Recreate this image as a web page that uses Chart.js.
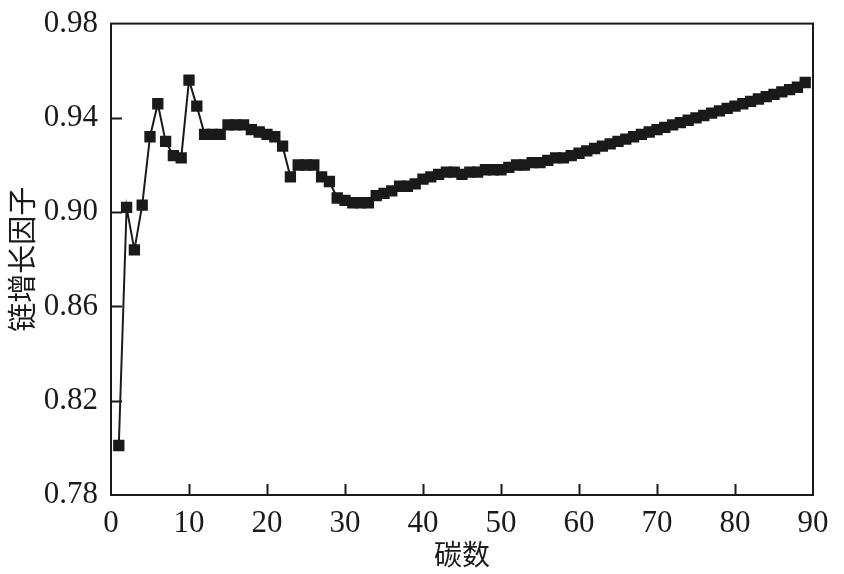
<!DOCTYPE html>
<html>
<head>
<meta charset="utf-8">
<script src="https://cdn.jsdelivr.net/npm/chart.js@4.4.1/dist/chart.umd.min.js"></script>
<style>
  body { margin: 0; background: #fff; }
  #wrap { width: 844px; height: 574px; }
</style>
</head>
<body>
<div id="wrap"><canvas id="myChart"></canvas></div>
<script>
// carbon number and chain growth factor
const carbonNum = []
for (let i = 1; i <= 89; i++) carbonNum.push(i)

const growthFactor = [
    0.801, 0.902, 0.884, 0.903, 0.932, 0.946, 0.930, 0.924, 0.923, 0.956,
    0.945, 0.933, 0.933, 0.933, 0.937, 0.937, 0.937, 0.935, 0.934, 0.933,
    0.932, 0.928, 0.915, 0.920, 0.920, 0.920, 0.915, 0.913, 0.906, 0.905,
    0.904, 0.904, 0.904, 0.907, 0.908, 0.909, 0.911, 0.911, 0.912, 0.914,
    0.915, 0.916, 0.917, 0.917, 0.916, 0.917, 0.917, 0.918, 0.918, 0.918,
    0.919, 0.920, 0.920, 0.921, 0.921, 0.922, 0.923, 0.923, 0.924, 0.925,
    0.926, 0.927, 0.928, 0.929, 0.930, 0.931, 0.932, 0.933, 0.934, 0.935,
    0.936, 0.937, 0.938, 0.939, 0.940, 0.941, 0.942, 0.943, 0.944, 0.945,
    0.946, 0.947, 0.948, 0.949, 0.950, 0.951, 0.952, 0.953, 0.955
]

const xTicks = [0, 10, 20, 30, 40, 50, 60, 70, 80, 90]
const yTicks = [0.78, 0.82, 0.86, 0.90, 0.94, 0.98]

const ink = '#1a1a1a'
const serif = "'Liberation Serif', 'Noto Sans CJK SC', serif"

const points = carbonNum.map((c, i) => ({ x: c, y: growthFactor[i] }))

// frame + inward tick marks
const frame = {
    id: 'frame',
    afterDraw(chart) {
        const { ctx, chartArea: a, scales } = chart
        ctx.save()
        ctx.strokeStyle = ink
        ctx.lineWidth = 2
        ctx.strokeRect(a.left, a.top, a.right - a.left, a.bottom - a.top)
        ctx.beginPath()
        xTicks.slice(1, -1).forEach(v => {
            const px = Math.round(scales.x.getPixelForValue(v)) + 0.5
            ctx.moveTo(px, a.bottom)
            ctx.lineTo(px, a.bottom - 11)
        })
        yTicks.slice(1, -1).forEach(v => {
            const py = Math.round(scales.y.getPixelForValue(v)) + 0.5
            ctx.moveTo(a.left, py)
            ctx.lineTo(a.left + 11, py)
        })
        ctx.stroke()
        ctx.restore()
    }
}

const config = {
    type: 'line',
    data: {
        datasets: [{
            data: points,
            borderColor: ink,
            backgroundColor: ink,
            borderWidth: 2,
            pointStyle: 'rect',
            pointRadius: 8,
            pointHoverRadius: 8,
            pointBorderWidth: 0,
            tension: 0
        }]
    },
    options: {
        responsive: true,
        maintainAspectRatio: false,
        animation: false,
        layout: { padding: { top: 23, right: 31, left: 0, bottom: 0 } },
        plugins: { legend: { display: false }, tooltip: { enabled: false } },
        scales: {
            x: {
                type: 'linear',
                min: 0, max: 90,
                afterBuildTicks: s => { s.ticks = xTicks.map(v => ({ value: v })) },
                afterFit: s => { s.height = 79 },
                grid: { display: false },
                border: { display: false },
                ticks: { color: ink, font: { family: serif, size: 31 }, padding: 2, maxRotation: 0 },
                title: { display: true, text: '碳数', color: ink, font: { family: serif, size: 28 }, padding: { top: -8, bottom: 0 } }
            },
            y: {
                min: 0.78, max: 0.98,
                afterBuildTicks: s => { s.ticks = yTicks.map(v => ({ value: v })) },
                afterFit: s => { s.width = 111 },
                grid: { display: false },
                border: { display: false },
                ticks: { color: ink, font: { family: serif, size: 31 }, padding: 5, callback: v => v.toFixed(2) },
                title: { display: true, text: '链增长因子', color: ink, font: { family: serif, size: 29 }, padding: { top: 8, bottom: 0 } }
            }
        }
    },
    plugins: [frame]
}

const myChart = new Chart(document.getElementById('myChart'), config)
</script>
</body>
</html>
